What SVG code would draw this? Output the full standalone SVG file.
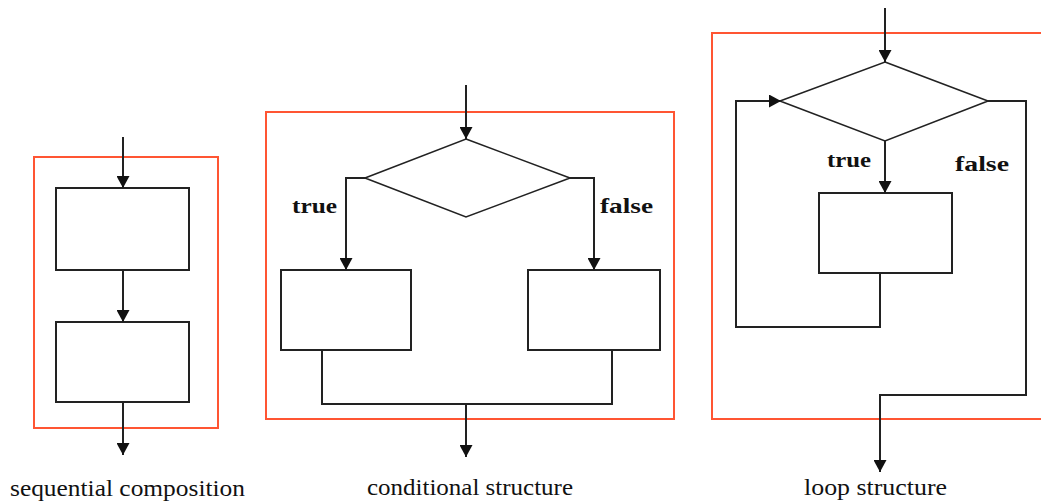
<svg xmlns="http://www.w3.org/2000/svg" width="1041" height="503" viewBox="0 0 1041 503">
<style>
.frame{fill:none;stroke:#ff5533;stroke-width:2}
.box{fill:#fff;stroke:#222;stroke-width:2}
.dia{fill:#fff;stroke:#222;stroke-width:1.6}
.ln{fill:none;stroke:#222;stroke-width:2}
.arr{fill:none;stroke:#222;stroke-width:2;marker-end:url(#ah)}
.lbl{font-weight:bold;font-size:22px;fill:#111}
.cap{font-size:24px;fill:#111}
</style>
<defs>
<marker id="ah" markerUnits="userSpaceOnUse" markerWidth="13" markerHeight="13" refX="12" refY="6.5" orient="auto">
<path d="M0,0 L12,6.5 L0,13 z" fill="#111"/>
</marker>
</defs>

<g id="frames">
<rect class="frame" x="34" y="157" width="184" height="271"/>
<rect class="frame" x="266" y="112" width="408" height="307"/>
<path class="frame" d="M1045,33 H712 V419 H1045"/>
</g>

<g id="seq-box1"><rect class="box" x="56" y="188" width="133" height="82"/></g>
<g id="seq-box2"><rect class="box" x="56" y="322" width="133" height="80"/></g>

<g id="cond-diamond"><polygon class="dia" points="466,139 570,178 466,217 365,178"/></g>
<g id="cond-box-true"><rect class="box" x="281" y="270" width="130" height="80"/></g>
<g id="cond-box-false"><rect class="box" x="528" y="270" width="132" height="80"/></g>

<g id="loop-diamond"><polygon class="dia" points="885,62 988,101 885,141 780,101"/></g>
<g id="loop-box"><rect class="box" x="819" y="193" width="133" height="80"/></g>

<g id="connectors">
<line class="arr" x1="123" y1="137" x2="123" y2="188"/>
<line class="arr" x1="123" y1="270" x2="123" y2="322"/>
<line class="arr" x1="123" y1="402" x2="123" y2="455"/>
<line class="arr" x1="466" y1="85" x2="466" y2="139"/>
<path class="arr" d="M365,178 H346 V270"/>
<path class="arr" d="M570,178 H594 V270"/>
<path class="ln" d="M322,350 V404 H612 V350"/>
<line class="arr" x1="466" y1="404" x2="466" y2="457"/>
<line class="arr" x1="885" y1="8" x2="885" y2="62"/>
<line class="arr" x1="885" y1="141" x2="885" y2="193"/>
<path class="arr" d="M880,273 V327 H736 V101 H781"/>
<path class="arr" d="M988,101 H1026 V395 H880 V472"/>
</g>

<g id="labels" font-family="'Liberation Serif', 'DejaVu Serif', serif">
<text class="lbl" font-family="Liberation Serif, serif" x="292" y="213" textLength="45" lengthAdjust="spacingAndGlyphs">true</text>
<text class="lbl" font-family="Liberation Serif, serif" x="600" y="213" textLength="53" lengthAdjust="spacingAndGlyphs">false</text>
<text class="lbl" font-family="Liberation Serif, serif" x="827" y="167" textLength="44" lengthAdjust="spacingAndGlyphs">true</text>
<text class="lbl" font-family="Liberation Serif, serif" x="955" y="171" textLength="54" lengthAdjust="spacingAndGlyphs">false</text>
<text class="cap" font-family="Liberation Serif, serif" x="10" y="496" textLength="235" lengthAdjust="spacingAndGlyphs">sequential composition</text>
<text class="cap" font-family="Liberation Serif, serif" x="367" y="495" textLength="206" lengthAdjust="spacingAndGlyphs">conditional structure</text>
<text class="cap" font-family="Liberation Serif, serif" x="804" y="495" textLength="143" lengthAdjust="spacingAndGlyphs">loop structure</text>
</g>
</svg>
